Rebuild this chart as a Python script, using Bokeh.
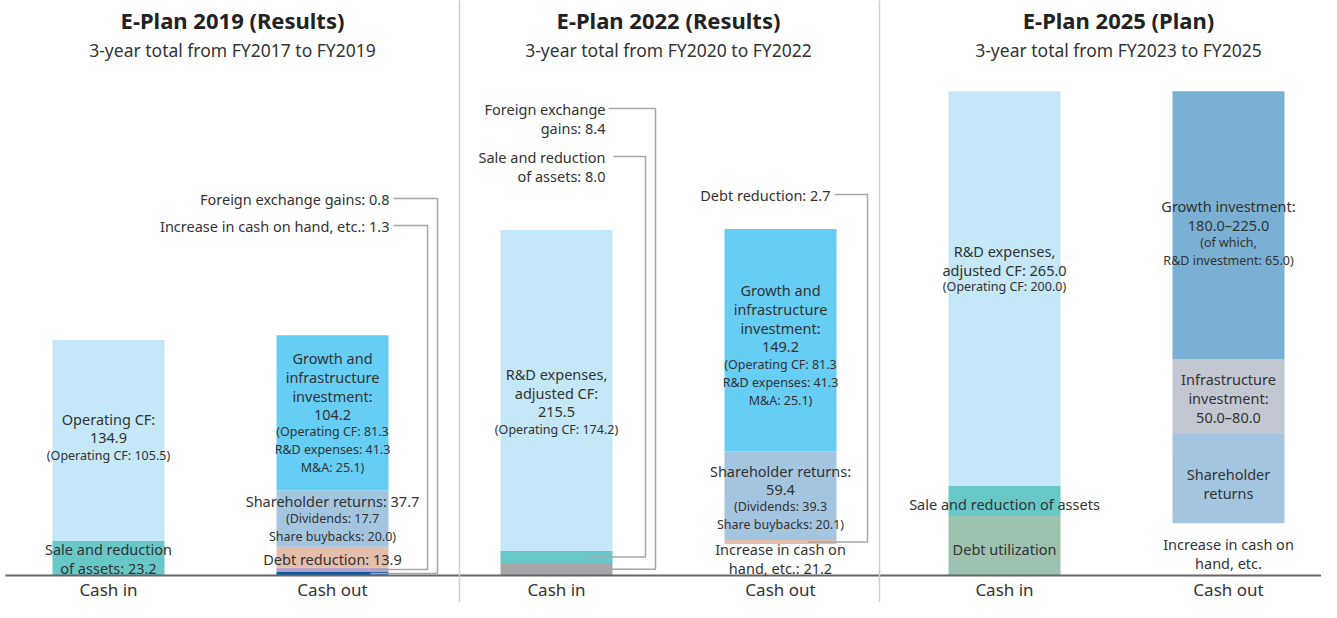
from bokeh.plotting import figure
from bokeh.models import Range1d, ColumnDataSource
from bokeh.embed import file_html
from bokeh.resources import INLINE
from bokeh.core.properties import value

# ---------------- data ----------------
panel_titles = ["E-Plan 2019 (Results)", "E-Plan 2022 (Results)", "E-Plan 2025 (Plan)"]
panel_subtitles = ["3-year total from FY2017 to FY2019",
                   "3-year total from FY2020 to FY2022",
                   "3-year total from FY2023 to FY2025"]
bar_categories = ["Cash in", "Cash out", "Cash in", "Cash out", "Cash in", "Cash out"]

# stacks listed bottom -> top
e2019_in_items = ["Sale and reduction of assets", "Operating CF"]
e2019_in_values = [23.2, 134.9]
e2019_out_items = ["Foreign exchange gains", "Increase in cash on hand, etc.", "Debt reduction",
                   "Shareholder returns", "Growth and infrastructure investment"]
e2019_out_values = [0.8, 1.3, 13.9, 37.7, 104.2]

e2022_in_items = ["Foreign exchange gains", "Sale and reduction of assets", "R&D expenses, adjusted CF"]
e2022_in_values = [8.4, 8.0, 215.5]
e2022_out_items = ["Increase in cash on hand, etc.", "Debt reduction", "Shareholder returns",
                   "Growth and infrastructure investment"]
e2022_out_values = [21.2, 2.7, 59.4, 149.2]

e2025_in_items = ["Debt utilization", "Sale and reduction of assets", "R&D expenses, adjusted CF"]
e2025_in_values = [40.0, 20.0, 265.0]
e2025_out_items = ["Increase in cash on hand, etc.", "Shareholder returns", "Infrastructure investment",
                   "Growth investment"]
e2025_out_values = [35.0, 60.0, 50.0, 180.0]
e2025_out_upper = [None, None, 80.0, 225.0]

operating_cf_basis = [105.5, 174.2, 200.0]
growth_breakdown_2019 = [81.3, 41.3, 25.1]   # Operating CF, R&D expenses, M&A
growth_breakdown_2022 = [81.3, 41.3, 25.1]
returns_breakdown_2019 = [17.7, 20.0]        # Dividends, Share buybacks
returns_breakdown_2022 = [39.3, 20.1]
rd_investment_2025 = 65.0

bars_values = [e2019_in_values, e2019_out_values, e2022_in_values,
               e2022_out_values, e2025_in_values, e2025_out_values]

# ---------------- styles / layout ----------------
bar_colors = [
    ["#68c8c8", "#c5e8f9"],
    ["#0a58a8", "#b7a3cc", "#e5bdab", "#a4c5e0", "#66cdf5"],
    ["#a6a6aa", "#68c8c8", "#c5e8f9"],
    [None, "#e5bdab", "#a4c5e0", "#66cdf5"],
    ["#9dc2b0", "#68c8c8", "#c5e8f9"],
    [None, "#a4c5e0", "#c3c7d1", "#7ab0d3"],
]

W, H = 1321, 602
OFF_X, OFF_Y = 0, 6     # reference px -> canvas px shift
SCALE = 1.49            # px per unit
BASE_Y = 581            # reference y of the zero line
X_ORIGIN, X_STEP = 108, 224
BAR_W = 0.5
MIN_SEG_PX = 4.0
FONT = "Noto Sans"
TXT = "#333333"


def x_of(ref_x):
    return (ref_x - X_ORIGIN) / X_STEP


def y_of(ref_y):
    return (BASE_Y - ref_y) / SCALE


def dx(px):
    return px / X_STEP


p = figure(width=W, height=H, output_backend="svg", toolbar_location=None,
           x_range=Range1d(x_of(OFF_X), x_of(OFF_X + W)),
           y_range=Range1d(y_of(OFF_Y + H), y_of(OFF_Y)),
           x_axis_location=None, y_axis_location=None, min_border=0)
p.grid.visible = False
p.outline_line_color = None
p.background_fill_color = "white"
p.border_fill_color = "white"

# ---------------- stacked bars ----------------
segs = {}   # (bar, seg) -> (bottom, top)
xs, bots, tops, cols, alphas = [], [], [], [], []
for i, vals in enumerate(bars_values):
    bottom = 0.0
    for j, v in enumerate(vals):
        h = max(v, MIN_SEG_PX / SCALE)
        top = bottom + h
        segs[(i, j)] = (bottom, top)
        c = bar_colors[i][j]
        xs.append(i); bots.append(bottom); tops.append(top)
        cols.append(c if c else "#ffffff"); alphas.append(1.0 if c else 0.0)
        bottom = top
src = ColumnDataSource(dict(x=xs, bottom=bots, top=tops, color=cols, alpha=alphas))
p.vbar(x="x", width=BAR_W, bottom="bottom", top="top", fill_color="color",
       fill_alpha="alpha", line_color=None, source=src)

# baseline and dividers
p.segment(x0=[x_of(5)], y0=[0], x1=[x_of(1330)], y1=[0], line_color="#666666", line_width=2)
p.segment(x0=[x_of(459), x_of(879)], y0=[y_of(5)] * 2, x1=[x_of(459), x_of(879)],
          y1=[y_of(615)] * 2, line_color="#cfcfcf", line_width=1.5)

# ---------------- text helpers ----------------
M, S = "m", "s"
SIZES = {M: "14.5px", S: "12.5px"}
text_rows = {M: dict(x=[], y=[], text=[]), S: dict(x=[], y=[], text=[])}


def gap(a, b):
    if a == M and b == M:
        return 19
    if a == M and b == S:
        return 17
    return 18


def add_block(x, center_ref_y, lines):
    offs = [0]
    for k in range(1, len(lines)):
        offs.append(offs[-1] + gap(lines[k - 1][1], lines[k][1]))
    start = center_ref_y - offs[-1] / 2
    for (t, st), o in zip(lines, offs):
        text_rows[st]["x"].append(x)
        text_rows[st]["y"].append(y_of(start + o))
        text_rows[st]["text"].append(t)


def f1(v):
    return f"{v:.1f}"


g19, g22 = growth_breakdown_2019, growth_breakdown_2022
r19, r22 = returns_breakdown_2019, returns_breakdown_2022
inbar = [
    (0, 1, -3, [("Operating CF:", M), (f1(e2019_in_values[1]), M),
                (f"(Operating CF: {f1(operating_cf_basis[0])})", S)]),
    (0, 0, 0, [("Sale and reduction", M), (f"of assets: {f1(e2019_in_values[0])}", M)]),
    (1, 4, 0, [("Growth and", M), ("infrastructure", M), ("investment:", M),
               (f1(e2019_out_values[4]), M), (f"(Operating CF: {f1(g19[0])}", S),
               (f"R&D expenses: {f1(g19[1])}", S), (f"M&A: {f1(g19[2])})", S)]),
    (1, 3, 0, [(f"Shareholder returns: {f1(e2019_out_values[3])}", M),
               (f"(Dividends: {f1(r19[0])}", S), (f"Share buybacks: {f1(r19[1])})", S)]),
    (1, 2, 2, [(f"Debt reduction: {f1(e2019_out_values[2])}", M)]),
    (2, 2, 11, [("R&D expenses,", M), ("adjusted CF:", M), (f1(e2022_in_values[2]), M),
                (f"(Operating CF: {f1(operating_cf_basis[1])})", S)]),
    (3, 3, 5, [("Growth and", M), ("infrastructure", M), ("investment:", M),
               (f1(e2022_out_values[3]), M), (f"(Operating CF: {f1(g22[0])}", S),
               (f"R&D expenses: {f1(g22[1])}", S), (f"M&A: {f1(g22[2])})", S)]),
    (3, 2, 2, [("Shareholder returns:", M), (f1(e2022_out_values[2]), M),
               (f"(Dividends: {f1(r22[0])}", S), (f"Share buybacks: {f1(r22[1])})", S)]),
    (3, 0, -1, [("Increase in cash on", M), (f"hand, etc.: {f1(e2022_out_values[0])}", M)]),
    (4, 2, -20, [("R&D expenses,", M), (f"adjusted CF: {f1(e2025_in_values[2])}", M),
                 (f"(Operating CF: {f1(operating_cf_basis[2])})", S)]),
    (4, 1, 2.5, [("Sale and reduction of assets", M)]),
    (4, 0, 3, [("Debt utilization", M)]),
    (5, 3, 8, [("Growth investment:", M),
               (f"{f1(e2025_out_values[3])}\u2013{f1(e2025_out_upper[3])}", M),
               ("(of which,", S), (f"R&D investment: {f1(rd_investment_2025)})", S)]),
    (5, 2, 1, [("Infrastructure", M), ("investment:", M),
               (f"{f1(e2025_out_values[2])}\u2013{f1(e2025_out_upper[2])}", M)]),
    (5, 1, 5, [("Shareholder", M), ("returns", M)]),
    (5, 0, 4.5, [("Increase in cash on", M), ("hand, etc.", M)]),
]
for bi, si, dy, lines in inbar:
    b, t = segs[(bi, si)]
    center = BASE_Y - (b + t) / 2 * SCALE + dy
    add_block(bi, center, lines)

for st in (M, S):
    p.text(x="x", y="y", text="text", source=ColumnDataSource(text_rows[st]),
           text_font=value(FONT), text_font_size=value(SIZES[st]), text_color=TXT,
           text_align="center", text_baseline="middle")

# ---------------- leader-line labels ----------------
# bar, seg, lines, first-line ref y, label right dx, line start dx, elbow dx, end dx (px from bar right edge)
leaders = [
    (1, 0, [f"Foreign exchange gains: {f1(e2019_out_values[0])}"], 204, 1, 5, 49, -18),
    (1, 1, [f"Increase in cash on hand, etc.: {f1(e2019_out_values[1])}"], 231, 1, 5, 39, -18),
    (2, 0, ["Foreign exchange", f"gains: {f1(e2022_in_values[0])}"], 114, -7, -4, 43, -25),
    (2, 1, ["Sale and reduction", f"of assets: {f1(e2022_in_values[1])}"], 162, -7, 1, 33, -25),
    (3, 1, [f"Debt reduction: {f1(e2022_out_values[1])}"], 200, -6, -2, 31, -28),
]
lx, ly, lt = [], [], []
seg_xs, seg_ys = [], []
for bi, si, lines, py, lab_dx, start_dx, elbow_dx, end_dx in leaders:
    right = bi + BAR_W / 2
    for k, t in enumerate(lines):
        lx.append(right + dx(lab_dx)); ly.append(y_of(py + 19 * k)); lt.append(t)
    b, t = segs[(bi, si)]
    ymid = (b + t) / 2
    seg_xs.append([right + dx(start_dx), right + dx(elbow_dx), right + dx(elbow_dx), right + dx(end_dx)])
    seg_ys.append([y_of(py), y_of(py), ymid, ymid])
p.multi_line(xs=seg_xs, ys=seg_ys, line_color="#a6a6a6", line_width=1.5)
p.text(x=lx, y=ly, text=lt, text_font=value(FONT), text_font_size=value(SIZES[M]),
       text_color=TXT, text_align="right", text_baseline="middle")

# ---------------- titles & category labels ----------------
title_x_ref = [232, 668, 1118]
p.text(x=[x_of(v) for v in title_x_ref], y=[y_of(25)] * 3, text=panel_titles,
       text_font=value(FONT), text_font_size=value("22px"), text_font_style="bold",
       text_color="#222222", text_align="center", text_baseline="middle")
p.text(x=[x_of(v) for v in title_x_ref], y=[y_of(55)] * 3, text=panel_subtitles,
       text_font=value(FONT), text_font_size=value("17.5px"),
       text_color=TXT, text_align="center", text_baseline="middle")
p.text(x=list(range(len(bar_categories))), y=[y_of(OFF_Y + H - 13)] * len(bar_categories),
       text=bar_categories, text_font=value(FONT), text_font_size=value("17px"),
       text_color=TXT, text_align="center", text_baseline="middle")

open("out.html", "w").write(file_html(p, INLINE))
